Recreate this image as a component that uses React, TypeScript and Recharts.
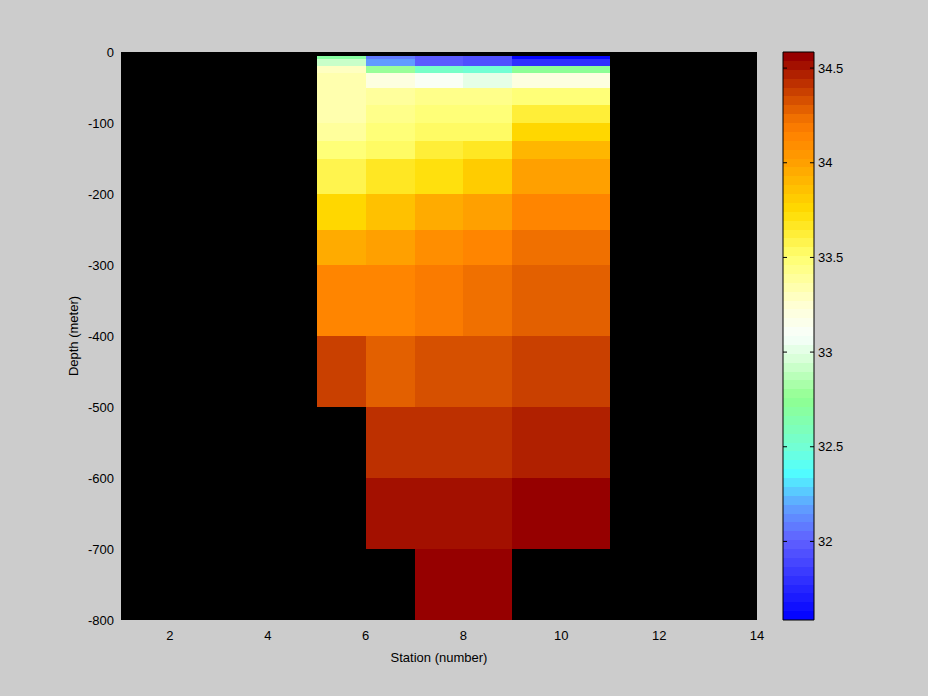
import React from 'react';
import { ComposedChart, XAxis, YAxis, ReferenceArea, ReferenceLine, Scatter } from 'recharts';

// Column edges (station number) and row edges (depth, m)
const stationEdges = [5, 6, 7, 8, 9, 11];
const depthEdges = [-5, -10, -20, -30, -50, -75, -100, -125, -150, -200, -250, -300, -400, -500, -600, -700, -800];

// Salinity per column, rows top -> bottom (null = no data)
const sal_5_6 = [32.7, 32.93, 33.3, 33.34, 33.34, 33.34, 33.38, 33.46, 33.575, 33.76, 33.952, 34.14, 34.374, null, null, null];
const sal_6_7 = [32.065, 32.185, 32.8, 33.2, 33.38, 33.42, 33.46, 33.55, 33.67, 33.865, 33.999, 34.14, 34.28, 34.421, 34.515, null];
const sal_7_8 = [32.0, 32.0, 32.565, 33.085, 33.42, 33.46, 33.535, 33.63, 33.73, 33.945, 34.093, 34.187, 34.328, 34.421, 34.515, 34.562];
const sal_8_9 = [31.95, 31.95, 32.515, 33.025, 33.42, 33.505, 33.54, 33.655, 33.8, 33.999, 34.14, 34.234, 34.328, 34.421, 34.515, 34.562];
const sal_9_11 = [31.6, 31.795, 32.755, 33.2, 33.46, 33.62, 33.745, 33.9, 33.999, 34.14, 34.234, 34.28, 34.374, 34.468, 34.562, null];
const salinityColumns = [sal_5_6, sal_6_7, sal_7_8, sal_8_9, sal_9_11];

const xTicks = [2, 4, 6, 8, 10, 12, 14];
const yTicks = [0, -100, -200, -300, -400, -500, -600, -700, -800];
const cbTicks = [32, 32.5, 33, 33.5, 34, 34.5];
const cbMin = 31.585;
const cbMax = 34.585;
const cbLevels = 64;

const cmapStops: [number, string][] = [
  [0.0, '#0000ff'],
  [0.14, '#6060ff'],
  [0.2, '#60a0ff'],
  [0.26, '#50ffff'],
  [0.3, '#70ffd8'],
  [0.39, '#90ff90'],
  [0.46, '#d8ffd8'],
  [0.5, '#f8fffc'],
  [0.55, '#ffffd8'],
  [0.64, '#ffff70'],
  [0.72, '#ffdc00'],
  [0.805, '#ffa000'],
  [0.86, '#ff8000'],
  [0.883, '#f07000'],
  [0.992, '#960000'],
  [1.0, '#920000'],
];

function hexToRgb(h: string) {
  return [parseInt(h.slice(1, 3), 16), parseInt(h.slice(3, 5), 16), parseInt(h.slice(5, 7), 16)];
}
function interpColor(p: number) {
  for (let i = 0; i < cmapStops.length - 1; i++) {
    const [p0, c0] = cmapStops[i];
    const [p1, c1] = cmapStops[i + 1];
    if (p >= p0 && p <= p1) {
      const t = (p - p0) / (p1 - p0);
      const a = hexToRgb(c0);
      const b = hexToRgb(c1);
      const r = a.map((v, k) => Math.round(v + (b[k] - v) * t));
      return `rgb(${r[0]},${r[1]},${r[2]})`;
    }
  }
  return cmapStops[cmapStops.length - 1][1];
}
function levelIndex(v: number) {
  const p = (v - cbMin) / (cbMax - cbMin);
  return Math.max(0, Math.min(cbLevels - 1, Math.floor(p * cbLevels)));
}
function levelColor(i: number) {
  return interpColor((i + 0.5) / cbLevels);
}

const cells: { x1: number; x2: number; y1: number; y2: number; v: number; fill: string }[] = [];
salinityColumns.forEach((col, i) => {
  col.forEach((v, j) => {
    if (v === null) return;
    cells.push({
      x1: stationEdges[i],
      x2: stationEdges[i + 1],
      y1: depthEdges[j],
      y2: depthEdges[j + 1],
      v: v as number,
      fill: levelColor(levelIndex(v as number)),
    });
  });
});
const cellCenters = cells.map((c) => ({ x: (c.x1 + c.x2) / 2, y: (c.y1 + c.y2) / 2 }));

const bands = Array.from({ length: cbLevels }, (_, i) => ({
  y1: cbMin + ((cbMax - cbMin) * i) / cbLevels,
  y2: cbMin + ((cbMax - cbMin) * (i + 1)) / cbLevels,
  fill: levelColor(i),
}));

const FONT = '"Liberation Sans", Arial, Helvetica, sans-serif';
const tickStyle = { fill: '#000', fontSize: 13, fontFamily: FONT };

const Empty = () => <g />;

export default function App() {
  return (
    <div style={{ position: 'absolute', left: 0, top: 0, width: 928, height: 696, background: '#cccccc', overflow: 'hidden' }}>
      <div style={{ position: 'absolute', left: 0, top: 0 }}>
        <ComposedChart width={928} height={696} margin={{ top: 52, right: 171, bottom: 36, left: 0 }} data={cellCenters}>
          <XAxis
            type="number"
            dataKey="x"
            domain={[1, 14]}
            ticks={xTicks}
            allowDataOverflow
            axisLine={false}
            tickLine={false}
            tickSize={0}
            tickMargin={11}
            height={40}
            tick={tickStyle}
            label={{
              content: (props: any) => {
                const vb = props.viewBox || { x: 121, y: 620, width: 636 };
                return (
                  <text x={vb.x + vb.width / 2} y={vb.y + 37} textAnchor="middle" dominantBaseline="central" fontSize={13} fontFamily={FONT} fill="#000">
                    Station (number)
                  </text>
                );
              },
            }}
          />
          <YAxis
            type="number"
            dataKey="y"
            domain={[-800, 0]}
            ticks={yTicks}
            allowDataOverflow
            axisLine={false}
            tickLine={false}
            tickSize={0}
            tickMargin={7}
            width={121}
            tick={tickStyle}
            label={{
              content: (props: any) => {
                const vb = props.viewBox || { x: 0, y: 52, height: 568 };
                const cx = 73;
                const cy = vb.y + vb.height / 2;
                return (
                  <text x={cx} y={cy} transform={`rotate(-90 ${cx} ${cy})`} textAnchor="middle" dominantBaseline="central" fontSize={13} fontFamily={FONT} fill="#000">
                    Depth (meter)
                  </text>
                );
              },
            }}
          />
          <ReferenceArea x1={1} x2={14} y1={-800} y2={0} fill="#000000" fillOpacity={1} stroke="none" ifOverflow="visible" />
          {cells.map((c, k) => (
            <ReferenceArea
              key={k}
              x1={c.x1}
              x2={c.x2}
              y1={c.y1}
              y2={c.y2}
              fill={c.fill}
              fillOpacity={1}
              stroke="none"
              shapeRendering="crispEdges"
              ifOverflow="visible"
            />
          ))}
          <Scatter dataKey="y" isAnimationActive={false} shape={Empty} />
        </ComposedChart>
      </div>
      <div style={{ position: 'absolute', left: 0, top: 0 }}>
        <ComposedChart width={928} height={696} margin={{ top: 52, right: 54, bottom: 76, left: 783 }} data={bands.map((b) => ({ x: 0.5, y: (b.y1 + b.y2) / 2 }))}>
          <XAxis type="number" dataKey="x" domain={[0, 1]} hide />
          <YAxis
            type="number"
            dataKey="y"
            orientation="right"
            domain={[cbMin, cbMax]}
            ticks={cbTicks}
            allowDataOverflow
            axisLine={false}
            tickLine={false}
            tickSize={0}
            tickMargin={4}
            width={60}
            tick={tickStyle}
          />
          {bands.map((b, k) => (
            <ReferenceArea key={k} x1={0} x2={1} y1={b.y1} y2={b.y2} fill={b.fill} fillOpacity={1} stroke="none" shapeRendering="crispEdges" ifOverflow="visible" />
          ))}
          <ReferenceArea x1={0} x2={1} y1={cbMin} y2={cbMax} fill="none" fillOpacity={0} stroke="#000" strokeWidth={1} ifOverflow="visible" />
          {cbTicks.map((t) => (
            <ReferenceLine key={'l' + t} segment={[{ x: 0, y: t }, { x: 0.13, y: t }]} stroke="#000" strokeWidth={1} ifOverflow="visible" />
          ))}
          {cbTicks.map((t) => (
            <ReferenceLine key={'r' + t} segment={[{ x: 0.87, y: t }, { x: 1, y: t }]} stroke="#000" strokeWidth={1} ifOverflow="visible" />
          ))}
          <Scatter dataKey="y" isAnimationActive={false} shape={Empty} />
        </ComposedChart>
      </div>
    </div>
  );
}
